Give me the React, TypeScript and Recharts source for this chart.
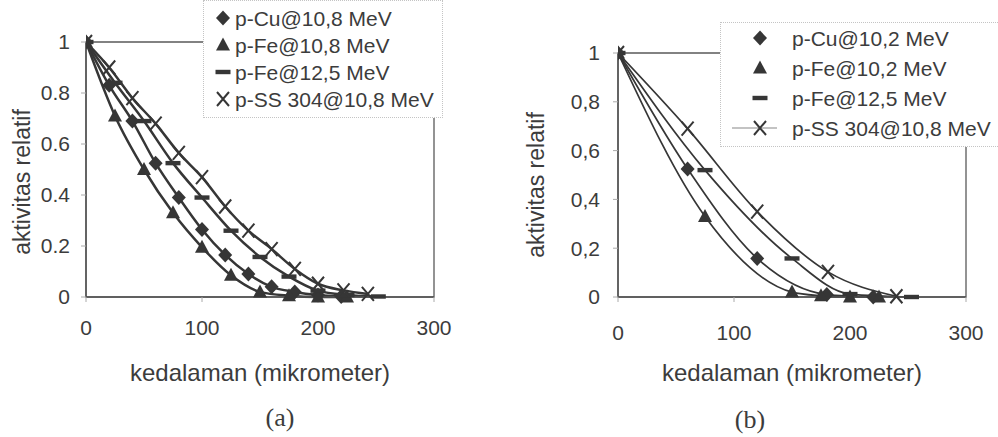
import React from 'react';
import { LineChart, Line, XAxis, YAxis, ReferenceArea, Legend, Label } from 'recharts';

// ─── DATA: panel (a) ─────────────────────────────────────────────────────────
const cuAx = [0, 20, 40, 60, 80, 100, 120, 140, 160, 180, 200, 220];
const cuAy = [1, 0.83, 0.69, 0.525, 0.39, 0.265, 0.165, 0.09, 0.04, 0.02, 0.008, 0.002];
const fe108Ax = [0, 25, 50, 75, 100, 125, 150, 175, 200, 225];
const fe108Ay = [1, 0.71, 0.5, 0.33, 0.195, 0.085, 0.02, 0.005, 0, 0];
const fe125Ax = [0, 25, 50, 75, 100, 125, 150, 175, 200, 225, 252];
const fe125Ay = [1, 0.84, 0.69, 0.525, 0.39, 0.26, 0.157, 0.08, 0.025, 0.008, 0.002];
const ssAx = [0, 20, 40, 60, 80, 100, 120, 140, 160, 180, 200, 222, 243];
const ssAy = [1, 0.9, 0.78, 0.68, 0.565, 0.47, 0.355, 0.26, 0.188, 0.11, 0.052, 0.026, 0.012];

// ─── DATA: panel (b) ─────────────────────────────────────────────────────────
const cuBx = [0, 60, 120, 180, 220];
const cuBy = [1, 0.525, 0.158, 0.01, 0];
const fe102Bx = [0, 75, 150, 175, 200, 225];
const fe102By = [1, 0.33, 0.02, 0.005, 0, 0];
const fe125Bx = [0, 75, 150, 200, 253];
const fe125By = [1, 0.52, 0.158, 0.012, 0];
const ssBx = [0, 60, 120, 181, 240];
const ssBy = [1, 0.69, 0.35, 0.103, 0.003];

const xTicks = [0, 100, 200, 300];
const yTicks = [0, 0.2, 0.4, 0.6, 0.8, 1];

const namesA = ['p-Cu@10,8 MeV', 'p-Fe@10,8 MeV', 'p-Fe@12,5 MeV', 'p-SS 304@10,8 MeV'];
const namesB = ['p-Cu@10,2 MeV', 'p-Fe@10,2 MeV', 'p-Fe@12,5 MeV', 'p-SS 304@10,8 MeV'];
const kinds = ['diamond', 'triangle', 'dash', 'cross'];

const INK = '#363636';
const TEXT = '#3c3c3c';
const SANS = '"Liberation Sans", Arial, sans-serif';

const zip = (xs: number[], ys: number[]) => xs.map((x, i) => ({ x, y: ys[i] }));

function Marker({ kind, cx, cy }: { kind: string; cx: number; cy: number }) {
  if (kind === 'diamond')
    return <path d={`M${cx},${cy - 7.5} L${cx + 7},${cy} L${cx},${cy + 7.5} L${cx - 7},${cy} Z`} fill={INK} />;
  if (kind === 'triangle')
    return <path d={`M${cx},${cy - 7.5} L${cx + 7},${cy + 5.5} L${cx - 7},${cy + 5.5} Z`} fill={INK} />;
  if (kind === 'dash') return <rect x={cx - 7.5} y={cy - 2.2} width={15} height={4.4} fill={INK} />;
  return (
    <path
      d={`M${cx - 6},${cy - 7} L${cx + 6},${cy + 7} M${cx + 6},${cy - 7} L${cx - 6},${cy + 7}`}
      stroke={INK}
      strokeWidth={2}
      fill="none"
    />
  );
}

const dotFor = (kind: string) => (p: any) => {
  if (p.cx == null || p.cy == null) return <g key={`${kind}-${p.index}`} />;
  return <Marker key={`${kind}-${p.index}`} kind={kind} cx={p.cx} cy={p.cy} />;
};

interface PanelProps {
  left: number;
  width: number;
  series: Array<{ x: number; y: number }>[];
  names: string[];
  top: number;
  right: number;
  yAxisWidth: number;
  marginLeft: number;
  sep: string;
  yTitle: { x: number; y: number };
  xTitleY: number;
  caption: string;
  captionX: number;
  captionY: number;
  xTickMargin: number;
  yTickMargin: number;
  lineWidth: number;
  legend: { left: number; top: number; w: number; h: number; row0: number; gap: number; mx: number; tx: number; ssLine?: boolean };
}

function Panel(p: PanelProps) {
  const H = 437;
  const lg = p.legend;
  return (
    <div style={{ position: 'absolute', left: p.left, top: 0, width: p.width, height: H }}>
      <LineChart
        width={p.width}
        height={H}
        margin={{ top: p.top, right: p.right, bottom: 110, left: p.marginLeft }}
      >
        <XAxis
          type="number"
          dataKey="x"
          domain={[0, 300]}
          ticks={xTicks}
          allowDataOverflow
          height={30}
          tickSize={5}
          tickMargin={p.xTickMargin}
          tick={{ fontSize: 21, fill: TEXT, fontFamily: SANS }}
          axisLine={{ stroke: '#555', strokeWidth: 1.5 }}
          tickLine={{ stroke: '#aaa' }}
        >
          <Label
            content={(lp: any) => {
              const vb = lp.viewBox;
              return (
                <text
                  x={vb.x + vb.width / 2}
                  y={p.xTitleY}
                  textAnchor="middle"
                  dominantBaseline="central"
                  fontSize={24}
                  fontFamily={SANS}
                  fill={TEXT}
                >
                  kedalaman (mikrometer)
                </text>
              );
            }}
          />
        </XAxis>
        <YAxis
          type="number"
          domain={[0, 1]}
          ticks={yTicks}
          width={p.yAxisWidth}
          tickSize={5}
          tickMargin={p.yTickMargin}
          tickFormatter={(v: number) => String(v).replace('.', p.sep)}
          tick={{ fontSize: 21, fill: TEXT, fontFamily: SANS }}
          axisLine={{ stroke: '#555', strokeWidth: 1.5 }}
          tickLine={{ stroke: '#aaa' }}
        >
          <Label
            content={() => (
              <text
                x={p.yTitle.x}
                y={p.yTitle.y}
                textAnchor="middle"
                dominantBaseline="central"
                fontSize={23}
                fontFamily={SANS}
                fill={TEXT}
                transform={`rotate(-90 ${p.yTitle.x} ${p.yTitle.y})`}
              >
                aktivitas relatif
              </text>
            )}
          />
        </YAxis>
        <ReferenceArea x1={0} x2={300} y1={0} y2={1} fill="none" stroke="#5a5a5a" strokeWidth={1.3} ifOverflow="visible" />
        {p.series.map((d, i) => (
          <Line
            key={p.names[i]}
            name={p.names[i]}
            data={d}
            dataKey="y"
            type="monotone"
            stroke={INK}
            strokeWidth={p.lineWidth}
            dot={dotFor(kinds[i])}
            activeDot={false}
            isAnimationActive={false}
          />
        ))}
        <Legend
          layout="horizontal"
          verticalAlign="middle"
          align="center"
          wrapperStyle={{ position: 'absolute', left: lg.left, top: lg.top, width: lg.w, height: lg.h }}
          content={() => (
            <div
              style={{
                width: lg.w,
                height: lg.h,
                background: '#fff',
                border: '1px dotted #c4c4c4',
                boxSizing: 'border-box',
              }}
            >
              <svg width={lg.w} height={lg.h} style={{ position: 'absolute', left: 0, top: 0 }}>
                {p.names.map((n, i) => {
                  const cy = lg.row0 + lg.gap * i;
                  return (
                    <g key={n}>
                      {lg.ssLine && kinds[i] === 'cross' && (
                        <line x1={lg.mx - 28} x2={lg.mx + 17} y1={cy} y2={cy} stroke="#888" strokeWidth={1.2} />
                      )}
                      <Marker kind={kinds[i]} cx={lg.mx} cy={cy} />
                      <text x={lg.tx} y={cy} dominantBaseline="central" fontSize={21} fontFamily={SANS} fill={TEXT}>
                        {n}
                      </text>
                    </g>
                  );
                })}
              </svg>
            </div>
          )}
        />
      </LineChart>
      <div
        style={{
          position: 'absolute',
          left: p.captionX - 40,
          width: 80,
          top: p.captionY - 16,
          lineHeight: '32px',
          textAlign: 'center',
          fontFamily: '"Liberation Serif", "Times New Roman", serif',
          fontSize: 26,
          color: TEXT,
        }}
      >
        {p.caption}
      </div>
    </div>
  );
}

export default function App() {
  const seriesA = [zip(cuAx, cuAy), zip(fe108Ax, fe108Ay), zip(fe125Ax, fe125Ay), zip(ssAx, ssAy)];
  const seriesB = [zip(cuBx, cuBy), zip(fe102Bx, fe102By), zip(fe125Bx, fe125By), zip(ssBx, ssBy)];
  return (
    <div style={{ position: 'absolute', left: 0, top: 0, width: 998, height: 437, background: '#fff', overflow: 'hidden' }}>
      <Panel
        left={0}
        width={480}
        series={seriesA}
        names={namesA}
        top={42}
        right={46}
        yAxisWidth={80}
        marginLeft={6}
        sep="."
        yTitle={{ x: 22, y: 182 }}
        xTitleY={372}
        caption="(a)"
        captionX={280}
        captionY={418}
        xTickMargin={18}
        yTickMargin={11}
        lineWidth={2.5}
        legend={{ left: 203, top: 0, w: 240, h: 118, row0: 18, gap: 27, mx: 20, tx: 32 }}
      />
      <Panel
        left={490}
        width={508}
        series={seriesB}
        names={namesB}
        top={53}
        right={32}
        yAxisWidth={120}
        marginLeft={8}
        sep=","
        yTitle={{ x: 46, y: 185 }}
        xTitleY={372}
        caption="(b)"
        captionX={260}
        captionY={420}
        xTickMargin={23}
        yTickMargin={13}
        lineWidth={1.7}
        legend={{ left: 230, top: 22, w: 290, h: 125, row0: 16, gap: 30, mx: 40, tx: 72, ssLine: true }}
      />
    </div>
  );
}
